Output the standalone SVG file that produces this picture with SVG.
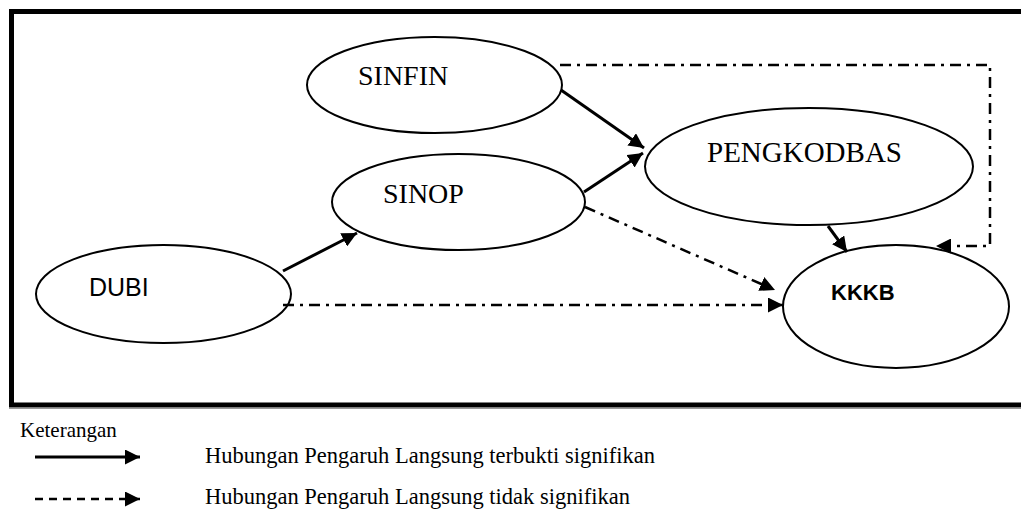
<svg xmlns="http://www.w3.org/2000/svg" width="1021" height="520" viewBox="0 0 1021 520">
<defs>
<marker id="ah" markerUnits="userSpaceOnUse" markerWidth="16" markerHeight="15" refX="15" refY="7.5" orient="auto"><path d="M0,0 L15,7.5 L0,15 z" fill="#000"/></marker>
<style>
.node{fill:#fff;stroke:#000;stroke-width:2}
.serif{font-family:"Liberation Serif","Times New Roman",serif;fill:#000}
.sans{font-family:"Liberation Sans",Arial,sans-serif;fill:#000}
.solid{stroke:#000;stroke-width:3;fill:none;marker-end:url(#ah)}
.dashdot{stroke:#000;stroke-width:2.5;fill:none;stroke-dasharray:11 6 3 6;marker-end:url(#ah)}
</style>
</defs>
<rect width="1021" height="520" fill="#fff"/>
<g id="frame">
<line x1="9" y1="408.5" x2="1021" y2="408.5" stroke="#999" stroke-width="1"/>
<path d="M1021,11.5 H11.5 V405 H1021" fill="none" stroke="#000" stroke-width="5"/>
</g>
<g id="node-sinfin"><ellipse class="node" cx="434.5" cy="85" rx="127.5" ry="48"/><text class="serif" x="358" y="85" font-size="28">SINFIN</text></g>
<g id="node-sinop"><ellipse class="node" cx="458.5" cy="202" rx="126.5" ry="48"/><text class="serif" x="383" y="203" font-size="28">SINOP</text></g>
<g id="node-pengkodbas"><ellipse class="node" cx="809" cy="166.5" rx="164" ry="58.5"/><text class="serif" x="707" y="162" font-size="29">PENGKODBAS</text></g>
<g id="node-dubi"><ellipse class="node" cx="163.5" cy="294" rx="127.5" ry="49"/><text class="sans" x="89" y="296" font-size="25">DUBI</text></g>
<g id="node-kkkb"><ellipse class="node" cx="896" cy="306.5" rx="113" ry="61.5"/><text class="sans" x="831" y="300" font-size="22" font-weight="bold">KKKB</text></g>
<g id="connectors">
<line class="solid" x1="283" y1="271" x2="357" y2="233"/>
<line class="solid" x1="561" y1="90" x2="644" y2="148"/>
<line class="solid" x1="584" y1="192" x2="643" y2="153"/>
<line class="solid" x1="828" y1="226" x2="847" y2="252"/>
<path class="dashdot" d="M560,65 H990 V246 H936"/>
<line class="dashdot" x1="585" y1="207" x2="775" y2="290"/>
<line class="dashdot" x1="283" y1="305" x2="783" y2="305"/>
</g>
<g id="legend">
<text class="serif" x="20" y="437" font-size="21">Keterangan</text>
<line x1="35" y1="457" x2="140" y2="457" stroke="#000" stroke-width="3" marker-end="url(#ah)"/>
<text class="serif" x="205" y="463" font-size="22.5">Hubungan Pengaruh Langsung terbukti signifikan</text>
<line x1="35" y1="499" x2="140" y2="499" stroke="#000" stroke-width="2.5" stroke-dasharray="8 6" marker-end="url(#ah)"/>
<text class="serif" x="205" y="504" font-size="22.5">Hubungan Pengaruh Langsung tidak signifikan</text>
</g>
</svg>
